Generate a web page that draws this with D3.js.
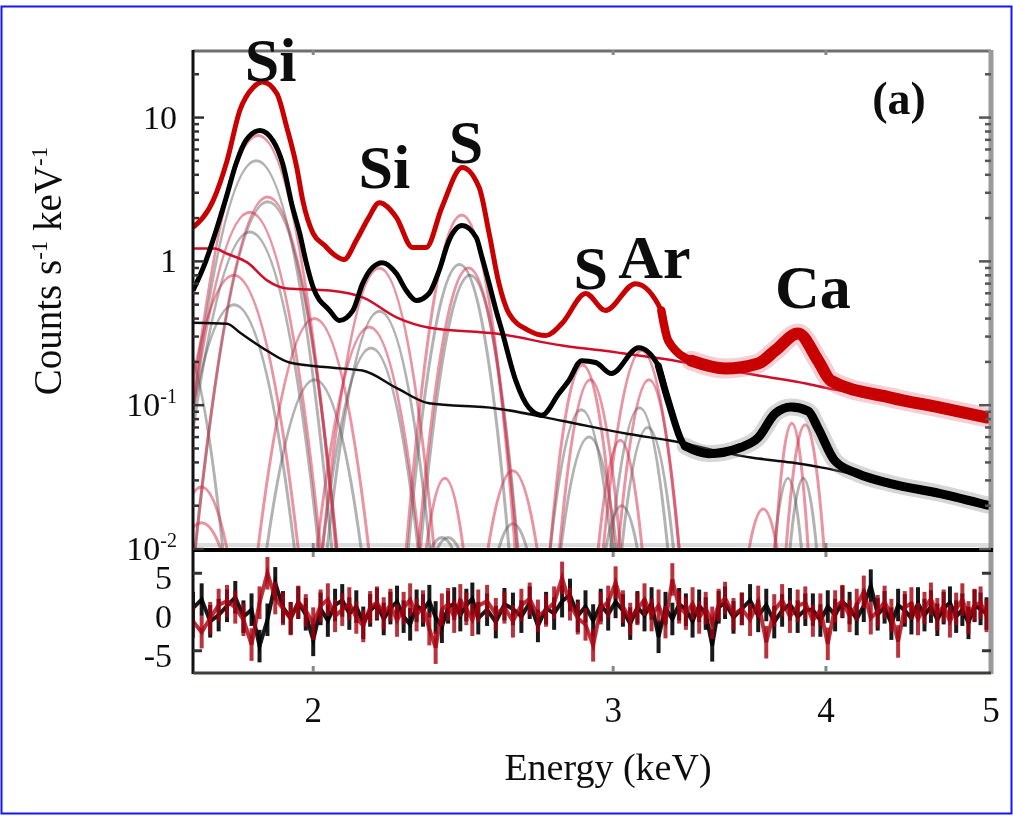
<!DOCTYPE html>
<html>
<head>
<meta charset="utf-8">
<script src="https://cdn.jsdelivr.net/npm/d3@7"></script>
<style>
  body { margin: 0; background: #fff; }
  svg { display: block; }
  text { font-family: "Liberation Serif", "DejaVu Serif", serif; fill: #111; }
</style>
</head>
<body>
<svg id="chart" width="1013" height="816"></svg>
<script>
// total model, red spectrum (E keV, counts/s/keV)
const redTotal = [[1.70,1.72],[1.747,2.65],[1.78,5.0],[1.811,11.2],[1.844,16.2],[1.868,17.7],[1.904,14.7],[1.930,8.5],
  [1.956,4.5],[1.972,2.65],[2.0,1.56],[2.03,1.30],[2.06,1.10],[2.085,1.03],[2.12,1.40],[2.155,2.0],[2.187,2.56],
  [2.238,2.02],[2.287,1.25],[2.330,1.25],[2.380,2.37],[2.446,4.49],[2.503,3.26],[2.537,1.56],[2.571,0.70],
  [2.606,0.434],[2.677,0.330],[2.739,0.305],[2.799,0.369],[2.891,0.598],[2.969,0.455],[3.092,0.70],[3.202,0.455],
  [3.232,0.281],[3.334,0.204],[3.491,0.180],[3.650,0.195],[3.735,0.240],[3.852,0.315],[3.958,0.204],[4.027,0.148],
  [4.365,0.113],[4.670,0.096],[4.976,0.082]];

// total model, black spectrum
const blackTotal = [[1.70,0.627],[1.730,1.01],[1.754,1.64],[1.778,2.78],[1.802,4.79],[1.826,6.92],[1.861,8.12],
  [1.894,6.92],[1.919,4.79],[1.945,2.37],[1.964,1.56],[1.980,1.01],[2.0,0.658],[2.045,0.455],[2.072,0.388],
  [2.110,0.455],[2.138,0.70],[2.167,0.906],[2.196,0.98],[2.238,0.822],[2.268,0.627],[2.299,0.534],[2.339,0.598],
  [2.371,0.863],[2.403,1.40],[2.446,1.775],[2.493,1.464],[2.513,1.06],[2.537,0.70],[2.561,0.455],[2.581,0.330],
  [2.630,0.148],[2.677,0.096],[2.724,0.085],[2.787,0.120],[2.825,0.148],[2.875,0.204],[2.930,0.198],[2.993,0.166],
  [3.105,0.251],[3.189,0.188],[3.232,0.107],[3.307,0.052],[3.412,0.046],[3.567,0.051],[3.650,0.0595],
  [3.735,0.0874],[3.816,0.097],[3.905,0.091],[3.958,0.069],[4.049,0.041],[4.176,0.0334],[4.365,0.0285],
  [4.670,0.0243],[4.976,0.0202]];

// continuum components
const redCont = [[1.70,1.23],[1.75,1.23],[1.78,1.13],[1.83,0.98],[1.88,0.735],[1.93,0.647],[2.045,0.627],
  [2.14,0.560],[2.24,0.407],[2.34,0.346],[2.56,0.315],[2.80,0.260],[3.02,0.232],[3.20,0.211],[3.65,0.161],
  [3.90,0.141],[4.0,0.132],[4.5,0.104],[5.0,0.085]];
const blackCont = [[1.70,0.375],[1.78,0.369],[1.811,0.320],[1.878,0.240],[1.937,0.198],[2.054,0.182],
  [2.138,0.174],[2.238,0.132],[2.339,0.103],[2.561,0.095],[2.799,0.078],[3.063,0.063],[3.232,0.057],
  [3.614,0.0432],[3.82,0.0399],[3.98,0.0368],[4.5,0.026],[5.0,0.019]];

// line components: [centre keV, peak, half width at the 1e-2 floor keV]
const redLines = [[1.72,0.027,0.06],[1.72,0.0152,0.045],[1.862,7.5,0.20],[1.84,2.2,0.18],[1.885,2.8,0.18],
  [1.80,0.8,0.16],[2.006,0.40,0.15],[2.19,0.90,0.165],[2.16,0.35,0.15],[2.39,0.031,0.06],[2.448,2.1,0.18],
  [2.47,0.9,0.165],[2.62,0.035,0.087],[2.88,0.19,0.125],[2.91,0.15,0.12],[3.03,0.057,0.09],[3.12,0.24,0.16],
  [3.15,0.15,0.13],[3.675,0.019,0.07],[3.82,0.075,0.085],[3.89,0.073,0.10]];
const greyLines = [[1.665,0.32,0.105],[1.857,5.0,0.194],[1.84,1.6,0.175],[1.885,2.6,0.18],[1.80,0.5,0.15],
  [2.006,0.15,0.128],[2.19,0.45,0.152],[2.165,0.25,0.14],[2.38,0.012,0.035],[2.40,0.012,0.035],
  [2.44,0.95,0.166],[2.475,0.80,0.163],[2.62,0.015,0.05],[2.875,0.093,0.12],[2.905,0.06,0.11],
  [3.035,0.02,0.065],[3.11,0.096,0.12],[3.145,0.07,0.11],[3.80,0.031,0.07],[3.88,0.031,0.07]];

// residual channels
const resE = [1.70,1.72,1.74,1.76,1.78,1.80,1.82,1.84,1.86,1.88,1.90,1.92,1.94,1.96,1.98,2.00,2.02,2.04,2.06,2.08,
  2.10,2.12,2.14,2.16,2.18,2.20,2.22,2.24,2.26,2.28,2.30,2.32,2.34,2.36,2.38,2.40,2.42,2.44,2.46,2.48,2.50,
  2.53,2.56,2.59,2.62,2.65,2.68,2.71,2.74,2.77,2.80,2.83,2.86,2.89,2.92,2.95,2.98,3.01,3.04,3.07,3.10,3.13,
  3.16,3.19,3.22,3.25,3.28,3.31,3.34,3.37,3.40,3.43,3.46,3.49,3.53,3.57,3.61,3.65,3.69,3.73,3.77,3.81,3.85,
  3.89,3.93,3.97,4.01,4.05,4.09,4.13,4.17,4.21,4.25,4.29,4.33,4.37,4.41,4.45,4.49,4.53,4.57,4.61,4.65,4.69,
  4.73,4.77,4.81,4.85,4.89,4.93,4.97];
const resRed = [-1.2,-2.6,-0.8,0.9,1.4,0.6,-1.0,-4.2,1.2,5.0,1.8,
  0.4,-0.9,1.3,0.2,-1.5,0.8,1.6,-0.5,0.3,1.1,
  -0.7,-1.8,0.6,1.2,-0.2,0.9,-1.1,0.5,1.6,-0.4,
  0.7,-2.2,-4.6,0.3,1.0,-0.6,1.5,0.4,-1.0,0.8,
  1.4,-0.3,0.6,-1.2,0.9,1.7,-0.5,0.2,1.2,4.4,
  1.0,-0.8,-1.6,-4.3,0.5,1.3,3.8,0.7,-0.9,0.4,
  1.6,-0.4,0.8,-1.3,4.2,0.6,-0.2,1.1,-0.7,0.5,
  -1.4,0.9,1.8,-0.3,0.4,-1.0,1.3,-3.9,0.2,1.5,
  -0.6,0.8,1.2,-1.1,0.3,-4.1,0.7,1.4,-0.5,0.9,
  2.6,-0.8,0.1,1.3,-0.4,-3.8,0.6,1.1,-0.9,0.5,
  1.7,-0.3,0.8,-1.2,0.4,1.6,-0.7,0.9,1.2,-0.5];
const resBlack = [0.5,1.6,-1.2,-0.4,0.8,1.9,-0.6,0.3,-4.4,-1.0,3.7,
  0.6,-0.8,1.2,-0.3,-3.6,0.4,-1.1,0.9,1.5,-0.2,
  0.7,-1.4,0.2,1.0,-0.9,0.5,1.3,-0.6,-1.6,0.8,
  0.2,1.4,-0.7,-1.9,0.6,1.1,-0.4,0.9,1.7,-0.8,
  0.3,-1.3,1.0,0.4,-0.6,1.2,-1.8,0.5,-0.2,1.4,
  2.2,-0.5,0.7,-1.1,0.9,-0.3,1.3,0.2,-1.5,0.6,
  -0.4,1.1,-3.2,0.5,-0.9,1.0,0.3,-1.2,0.8,-0.2,
  -4.3,0.6,1.2,-0.7,0.4,1.5,-0.5,0.9,-1.3,0.2,
  1.0,-0.6,0.3,0.3,-1.1,0.7,-0.4,1.3,0.5,-0.9,
  0.8,3.4,-0.3,0.6,-1.5,0.9,0.2,-0.8,1.1,-0.4,
  0.7,-1.0,0.5,1.2,-0.6,0.3,-1.4,0.8,0.4,-0.2];

const xTicks = [2, 3, 4, 5];
const yMajor = [10, 1, 0.1, 0.01];
const resTicks = [5, 0, -5];
// element labels: energy, baseline level
const peakLabels = [
  {e: 1.888, v: 18.1, t: "Si"}, {e: 2.202, v: 3.26, t: "Si"}, {e: 2.459, v: 4.8, t: "S"},
  {e: 2.911, v: 0.64, t: "S"}, {e: 3.172, v: 0.77, t: "Ar"}, {e: 3.93, v: 0.477, t: "Ca"}
];

const svg = d3.select("#chart");
const W = 1013, H = 816;
const pl = 193, pr = 991, pt = 50, pm = 549, pb = 674;

const x = d3.scaleLog().domain([1.7, 5]).range([pl, pr]);
const y = d3.scaleLog().domain([0.01, 29.5]).range([pm, pt]);
const yr = d3.scaleLinear().domain([-8, 8]).range([pb, pm + 1]);

svg.append("rect").attr("width", W).attr("height", H).attr("fill", "#fff");
svg.append("rect").attr("x", 1.5).attr("y", 6.5).attr("width", W - 3).attr("height", H - 9)
  .attr("fill", "none").attr("stroke", "#1515ff").attr("stroke-width", 2);

const defs = svg.append("defs");
defs.append("clipPath").attr("id", "clipTop").append("rect")
  .attr("x", pl).attr("y", pt).attr("width", pr - pl).attr("height", pm - pt);
defs.append("clipPath").attr("id", "clipBot").append("rect")
  .attr("x", pl).attr("y", pm).attr("width", pr - pl).attr("height", pb - pm);
defs.append("filter").attr("id", "soft").append("feGaussianBlur").attr("stdDeviation", 0.6);

const upper = svg.append("g").attr("clip-path", "url(#clipTop)").attr("filter", "url(#soft)");

// faint floor band just above the panel divider
upper.append("line").attr("x1", pl).attr("x2", pr)
  .attr("y1", pm - 4).attr("y2", pm - 4).attr("stroke", "#ddd").attr("stroke-width", 4);

// gaussian lines are parabolas on log axes: quadratic from foot to foot
const arc = d => {
  const [e, pk, hw] = d;
  const x0 = x(e - hw), x1 = x(e + hw), xc = x(e), yb = y(0.01), yp = y(pk);
  return `M${x0},${yb}Q${xc},${2 * yp - yb} ${x1},${yb}`;
};

upper.append("g").selectAll("path").data(greyLines).join("path")
  .attr("d", arc).attr("fill", "none").attr("stroke", "#555").attr("stroke-opacity", 0.45)
  .attr("stroke-width", 3);
upper.append("g").selectAll("path").data(redLines).join("path")
  .attr("d", arc).attr("fill", "none").attr("stroke", "#d22a45").attr("stroke-opacity", 0.5)
  .attr("stroke-width", 3);

const line = d3.line().x(d => x(d[0])).y(d => y(d[1])).curve(d3.curveMonotoneX);

upper.append("path").attr("d", line(blackCont)).attr("fill", "none")
  .attr("stroke", "#111").attr("stroke-width", 2.5);
upper.append("path").attr("d", line(redCont)).attr("fill", "none")
  .attr("stroke", "#d0102a").attr("stroke-width", 2.5);

// totals: thin where counts are high, widening into a noisy band at high energy
function drawTotal(data, col, halo, wide) {
  const tail = data.filter(d => d[0] >= 3.3);
  upper.append("path").attr("d", line(tail)).attr("fill", "none").attr("stroke-linecap", "round")
    .attr("stroke", halo).attr("stroke-width", wide + 8).attr("stroke-opacity", 0.3);
  upper.append("path").attr("d", line(data.filter(d => d[0] >= 3.18))).attr("fill", "none")
    .attr("stroke-linecap", "round").attr("stroke", col).attr("stroke-width", (wide + 5) / 2);
  upper.append("path").attr("d", line(tail)).attr("fill", "none").attr("stroke-linecap", "round")
    .attr("stroke", col).attr("stroke-width", wide);
  upper.append("path").attr("d", line(data)).attr("fill", "none")
    .attr("stroke", col).attr("stroke-width", 5);
}
drawTotal(blackTotal, "#000", "#777", 9);
drawTotal(redTotal, "#c80000", "#e06070", 12);

// residuals: error bars plus the joined points
const lower = svg.append("g").attr("clip-path", "url(#clipBot)").attr("filter", "url(#soft)");
const rline = d3.line().x(d => x(d[0])).y(d => yr(d[1]));
function drawRes(vals, col, op) {
  const pts = resE.map((e, i) => [e, vals[i]]).filter(d => d[1] !== undefined);
  lower.append("g").selectAll("line").data(pts).join("line")
    .attr("x1", d => x(d[0])).attr("x2", d => x(d[0]))
    .attr("y1", d => yr(d[1] - 2.1)).attr("y2", d => yr(d[1] + 2.1))
    .attr("stroke", col).attr("stroke-width", 4).attr("stroke-opacity", op);
  lower.append("path").attr("d", rline(pts)).attr("fill", "none")
    .attr("stroke", col).attr("stroke-width", 4).attr("stroke-opacity", op);
}
drawRes(resBlack, "#000", 0.9);
drawRes(resRed, "#a8000c", 0.8);

// frame
const frame = svg.append("g");
frame.append("line").attr("x1", pl).attr("x2", pr).attr("y1", pt + 1).attr("y2", pt + 1)
  .attr("stroke", "#6e6e6e").attr("stroke-width", 3);
frame.append("line").attr("x1", pr).attr("x2", pr).attr("y1", pt).attr("y2", pb)
  .attr("stroke", "#9a9a9a").attr("stroke-width", 5);
frame.append("line").attr("x1", pl).attr("x2", pl).attr("y1", pt).attr("y2", pb)
  .attr("stroke", "#111").attr("stroke-width", 3);
frame.append("line").attr("x1", pl).attr("x2", pr + 2).attr("y1", pm + 1).attr("y2", pm + 1)
  .attr("stroke", "#000").attr("stroke-width", 4);
frame.append("line").attr("x1", pl).attr("x2", pr).attr("y1", pb - 1).attr("y2", pb - 1)
  .attr("stroke", "#3c413c").attr("stroke-width", 3);

// log ticks on both sides
const yt = y.ticks();
frame.append("g").selectAll("line").data(yt).join("line")
  .attr("x1", pl).attr("x2", d => pl + (yMajor.includes(d) ? 11 : 6))
  .attr("y1", d => y(d)).attr("y2", d => y(d)).attr("stroke", "#333").attr("stroke-width", 2.5);
frame.append("g").selectAll("line").data(yt).join("line")
  .attr("x1", pr).attr("x2", d => pr - (yMajor.includes(d) ? 12 : 6))
  .attr("y1", d => y(d)).attr("y2", d => y(d)).attr("stroke", "#555").attr("stroke-width", 2.5);
frame.append("g").selectAll("line").data([5, -5]).join("line")
  .attr("x1", pl).attr("x2", pl + 9).attr("y1", d => yr(d)).attr("y2", d => yr(d))
  .attr("stroke", "#333").attr("stroke-width", 3);
frame.append("g").selectAll("line").data([5, -5]).join("line")
  .attr("x1", pr).attr("x2", pr - 9).attr("y1", d => yr(d)).attr("y2", d => yr(d))
  .attr("stroke", "#333").attr("stroke-width", 3);
[[pt, 5], [pm + 3, 5], [pm - 1, -5], [pb - 2, -6]].forEach(([y0, len]) => {
  frame.append("g").selectAll("line").data(xTicks.slice(0, 3)).join("line")
    .attr("x1", d => x(d)).attr("x2", d => x(d)).attr("y1", y0).attr("y2", y0 + len)
    .attr("stroke", "#888").attr("stroke-width", 3);
});

// tick labels
const lab = svg.append("g").attr("filter", "url(#soft)");
lab.append("g").selectAll("text").data(xTicks).join("text")
  .attr("x", d => x(d)).attr("y", 722).attr("text-anchor", "middle")
  .attr("font-size", 35).text(d => d);

const yl = lab.append("g").selectAll("text").data(yMajor).join("text")
  .attr("x", 177).attr("y", d => y(d) + 11).attr("text-anchor", "end").attr("font-size", 34);
yl.each(function(d) {
  const t = d3.select(this);
  if (d >= 1) { t.text(d); return; }
  t.append("tspan").text("10");
  t.append("tspan").attr("dy", -13).attr("font-size", 20).text("-" + Math.round(-Math.log10(d)));
});
lab.append("g").selectAll("text").data(resTicks).join("text")
  .attr("x", 172).attr("y", d => yr(d) + 16).attr("text-anchor", "end")
  .attr("font-size", 34).text(d => d);

lab.append("text").attr("x", 608).attr("y", 780).attr("text-anchor", "middle")
  .attr("font-size", 38).text("Energy (keV)");

const ylab = lab.append("text").attr("transform", "translate(61,271) rotate(-90)")
  .attr("text-anchor", "middle").attr("font-size", 39);
ylab.append("tspan").text("Counts s");
ylab.append("tspan").attr("dy", -14).attr("font-size", 23).text("-1");
ylab.append("tspan").attr("dy", 14).text(" keV");
ylab.append("tspan").attr("dy", -14).attr("font-size", 23).text("-1");

lab.append("text").attr("x", 899).attr("y", 114).attr("text-anchor", "middle")
  .attr("font-size", 46).attr("font-weight", "bold").text("(a)");

lab.append("g").selectAll("text").data(peakLabels).join("text")
  .attr("x", d => x(d.e)).attr("y", d => y(d.v)).attr("text-anchor", "middle")
  .attr("font-size", 62).attr("font-weight", "bold").text(d => d.t);
</script>
</body>
</html>
